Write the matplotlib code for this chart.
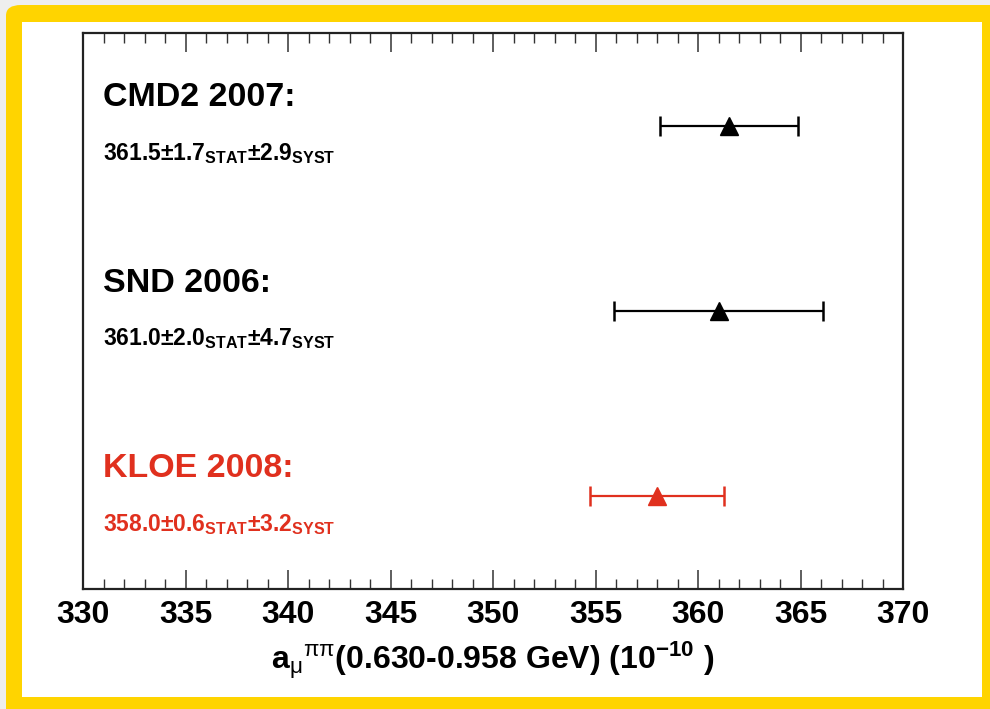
import numpy as np
import matplotlib
matplotlib.use("Agg")
import matplotlib.pyplot as plt
from matplotlib.patches import FancyBboxPatch, Rectangle
from matplotlib.transforms import blended_transform_factory

plt.rcParams["font.family"] = ["Liberation Sans", "DejaVu Sans"]
plt.rcParams["mathtext.fontset"] = "custom"
plt.rcParams["mathtext.rm"] = "Liberation Sans:bold"
plt.rcParams["mathtext.it"] = "Liberation Sans"
plt.rcParams["mathtext.bf"] = "Liberation Sans:bold"

# a_mu^pipi contributions (0.630-0.958 GeV), units of 1e-10
experiments = ["CMD2 2007:", "SND 2006:", "KLOE 2008:"]
central = [361.5, 361.0, 358.0]
stat_err = [1.7, 2.0, 0.6]
syst_err = [2.9, 4.7, 3.2]
row_pos = [3, 2, 1]
colors = ["black", "black", "#e0301e"]

fig = plt.figure(figsize=(9.9, 7.09), dpi=100, facecolor="#eeeeee")

# yellow rounded frame with white panel inside
frame = FancyBboxPatch((6 / 990, -20 / 709), 1.05, 1 - 5 / 709 + 20 / 709,
                       boxstyle="round,pad=0,rounding_size=0.015",
                       transform=fig.transFigure, facecolor="#ffd400",
                       edgecolor="none", zorder=-10)
fig.patches.append(frame)
fig.patches.append(Rectangle((22 / 990, 12 / 709), (982 - 22) / 990, (697 - 22) / 709,
                             transform=fig.transFigure, facecolor="white",
                             edgecolor="none", zorder=-9))

ax = fig.add_axes([83 / 990, 1 - 589 / 709, (903 - 83) / 990, (589 - 33) / 709])
ax.set_facecolor("white")

total_err = np.sqrt(np.array(stat_err) ** 2 + np.array(syst_err) ** 2)
for x, err, y, c in zip(central, total_err, row_pos, colors):
    ax.errorbar(x, y, xerr=err, fmt="^", color=c, ms=13, lw=1.6,
                capsize=7, capthick=1.8, mec=c, mfc=c)

trans = blended_transform_factory(ax.transAxes, ax.transData)
for name, x, s, sy, y, c in zip(experiments, central, stat_err, syst_err, row_pos, colors):
    ax.text(0.024, y + 0.15, name, transform=trans, fontsize=24.5,
            fontweight="bold", color=c, va="center", ha="left")
    sub = (f"{x:.1f}\u00b1{s:.1f}" + r"$_{\mathrm{STAT}}$" +
           f"\u00b1{sy:.1f}" + r"$_{\mathrm{SYST}}$")
    ax.text(0.024, y - 0.15, sub, transform=trans, fontsize=16.5,
            fontweight="bold", color=c, va="center", ha="left")

ax.set_xlim(330, 370)
ax.set_ylim(0.5, 3.5)
ax.set_xticks(np.arange(330, 371, 5))
ax.set_xticks(np.arange(330, 371, 1), minor=True)
ax.set_yticks([])
ax.tick_params(axis="x", which="both", direction="in", top=True,
               labelsize=23, pad=8, color="#333333")
ax.tick_params(axis="x", which="major", length=14, width=1.1)
ax.tick_params(axis="x", which="minor", length=7, width=1.0)
for lab in ax.get_xticklabels():
    lab.set_fontweight("bold")
for sp in ax.spines.values():
    sp.set_linewidth(1.6)
    sp.set_color("#222222")

ax.set_xlabel("a$_{\\mathit{μ}}$$^{\\mathit{ππ}}$(0.630-0.958 GeV) (10$^{\\mathrm{-10}}$ )",
              fontsize=23, fontweight="bold")
ax.xaxis.set_label_coords(0.5, -0.09)

fig.savefig("out.png", dpi=100, facecolor=fig.get_facecolor())
